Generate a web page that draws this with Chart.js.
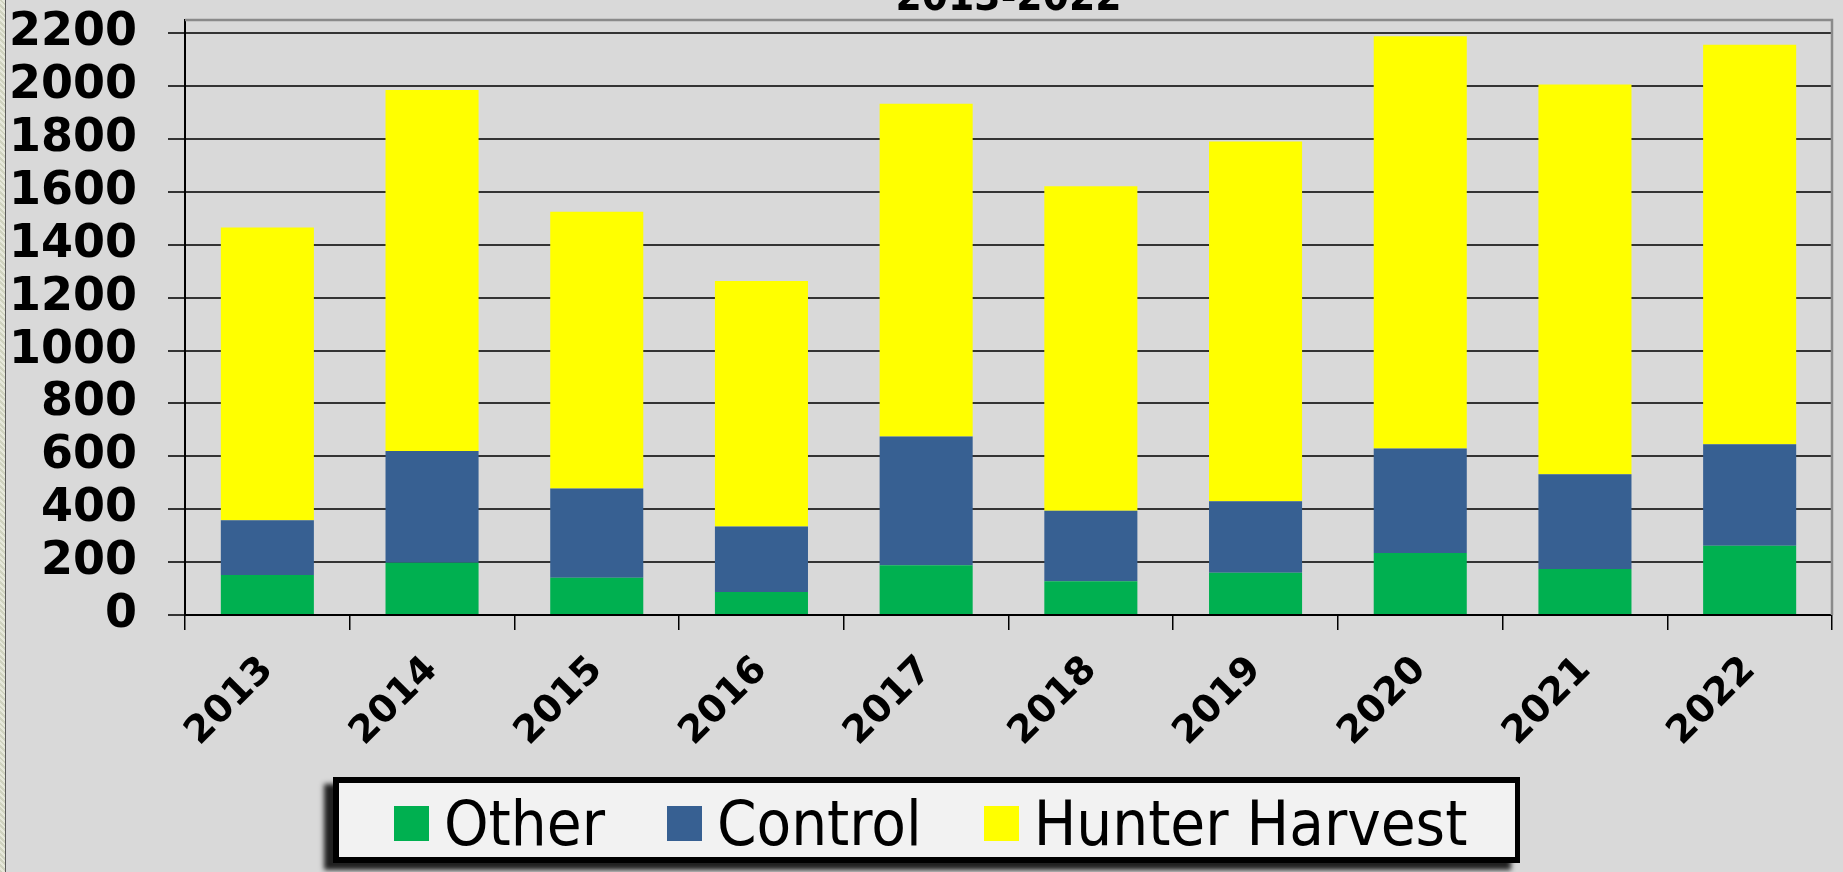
<!DOCTYPE html>
<html>
<head>
<meta charset="utf-8">
<script src="https://cdn.jsdelivr.net/npm/chart.js@4"></script>
<style>
  html, body { margin: 0; padding: 0; background: #d9d9d9; overflow: hidden; }
  #wrap { position: relative; width: 1843px; height: 872px; }
  #edge {
    position: absolute; left: 0; top: 0; width: 5px; height: 872px;
    background: repeating-linear-gradient(45deg, #cfd2bf 0 2px, #e6e8da 2px 4px);
    border-right: 1px solid #5a5a5a;
  }
  #legend {
    position: absolute; left: 333px; top: 777px; width: 1187px; height: 86px;
    box-sizing: border-box; border: 6px solid #000; border-right-width: 5px;
    background: #f2f2f2; box-shadow: -9px 7px 5px rgba(0,0,0,0.85);
    display: flex; align-items: center; padding-left: 55px; padding-top: 7px;
    font-family: "DejaVu Sans Condensed", "DejaVu Sans", sans-serif; font-size: 63px;
    line-height: 1; color: #000; white-space: nowrap; overflow: hidden;
  }
  .item { display: flex; align-items: center; margin-right: 62px; flex-shrink: 0; }
  .sw { width: 35px; height: 35px; margin-right: 15px; flex-shrink: 0; }
</style>
</head>
<body>
<div id="wrap">
  <canvas id="chart" width="1843" height="872"></canvas>
  <div id="edge"></div>
  <div id="legend"></div>
</div>
<script>
const years = ['2013', '2014', '2015', '2016', '2017', '2018', '2019', '2020', '2021', '2022'];
const otherVals = [151, 198, 141, 87, 188, 128, 160, 234, 174, 262];
const controlVals = [207, 422, 337, 248, 487, 266, 270, 396, 358, 384];
const hunterVals = [1107, 1365, 1047, 928, 1258, 1227, 1361, 1559, 1474, 1510];
const yTicks = [0, 200, 400, 600, 800, 1000, 1200, 1400, 1600, 1800, 2000, 2200];
const seriesNames = ['Other', 'Control', 'Hunter Harvest'];
const seriesColors = ['#00b050', '#376092', '#ffff00'];
const subTitle = '2013-2022';

const frameAndTitle = {
  id: 'frameAndTitle',
  afterDraw(chart) {
    const { ctx, chartArea } = chart;
    ctx.save();
    ctx.strokeStyle = '#8a8a8a';
    ctx.lineWidth = 2.5;
    ctx.beginPath();
    ctx.moveTo(chartArea.left, chartArea.top);
    ctx.lineTo(chartArea.right, chartArea.top);
    ctx.lineTo(chartArea.right, chartArea.bottom);
    ctx.stroke();
    // title, only its lower part shows at the top edge
    ctx.fillStyle = '#000';
    ctx.font = "bold 42px 'DejaVu Sans Condensed', 'DejaVu Sans'";
    ctx.textAlign = 'center';
    ctx.textBaseline = 'alphabetic';
    ctx.fillText(subTitle, (chartArea.left + chartArea.right) / 2, 10);
    ctx.restore();
  }
};

const datasets = [otherVals, controlVals, hunterVals].map((vals, i) => ({
  label: seriesNames[i],
  data: vals,
  backgroundColor: seriesColors[i],
  borderWidth: 0,
  barPercentage: 0.565,
  categoryPercentage: 1
}));

new Chart(document.getElementById('chart'), {
  type: 'bar',
  data: { labels: years, datasets: datasets },
  options: {
    responsive: false,
    animation: false,
    layout: { padding: { top: 20, right: 11, left: 0, bottom: 0 } },
    plugins: {
      legend: { display: false },
      tooltip: { enabled: false }
    },
    scales: {
      x: {
        stacked: true,
        afterFit(scale) {
          scale.height = 257;
          scale.paddingLeft = 0;
          scale.paddingRight = 0;
        },
        grid: {
          offset: true,
          drawOnChartArea: false,
          drawTicks: true,
          tickLength: 15,
          color: '#000',
          lineWidth: 1.5
        },
        border: { display: true, color: '#000', width: 2 },
        ticks: {
          color: '#000',
          autoSkip: false,
          minRotation: 45,
          maxRotation: 45,
          padding: 18,
          font: { family: 'DejaVu Sans', weight: 'bold', size: 38 }
        }
      },
      y: {
        stacked: true,
        min: 0,
        max: 2250,
        afterFit(scale) {
          scale.width = 185;
          scale.paddingTop = 0;
          scale.paddingBottom = 0;
        },
        afterBuildTicks(scale) { scale.ticks = yTicks.map(v => ({ value: v })); },
        grid: {
          color: '#333',
          lineWidth: 2,
          tickLength: 17,
          drawTicks: true
        },
        border: { display: true, color: '#000', width: 2 },
        ticks: {
          color: '#000',
          autoSkip: false,
          padding: 31,
          callback: v => String(v),
          font: { family: 'DejaVu Sans', weight: 'bold', size: 46 }
        }
      }
    }
  },
  plugins: [frameAndTitle]
});

// legend drawn as html box
const legendEl = document.getElementById('legend');
seriesNames.forEach((name, i) => {
  const item = document.createElement('div');
  item.className = 'item';
  const sw = document.createElement('span');
  sw.className = 'sw';
  sw.style.background = seriesColors[i];
  const txt = document.createElement('span');
  txt.textContent = name;
  item.appendChild(sw);
  item.appendChild(txt);
  legendEl.appendChild(item);
});
</script>
</body>
</html>
